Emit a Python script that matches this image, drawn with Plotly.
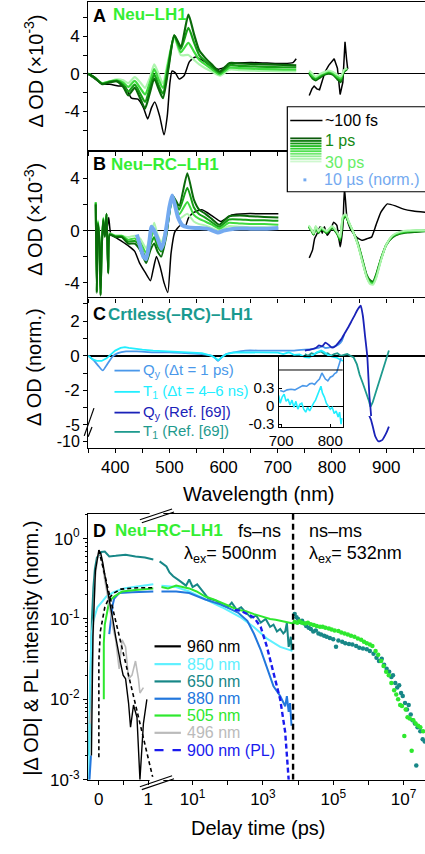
import plotly.graph_objects as go

W, H = 425, 854
FONT = "Liberation Sans, Arial, sans-serif"

# ===================== DATA =====================
# ---- Panel A (Neu-LH1), Delta OD x1e-3 ----
WL_A = [350, 362, 376, 390, 403, 415, 424, 436, 446, 455, 464, 472, 480, 488, 498, 509, 521, 535, 545, 555, 566, 578, 593, 611, 630, 650, 680, 710, 734]
A_1PS = [0.0, -0.4, -1.1, -0.9, -0.8, -1.4, -2.3, -1.5, -2.6, -3.7, -2.0, -0.5, -1.6, -2.6, 0.5, 4.1, 2.9, 6.3, 4.3, 2.5, 1.7, 1.0, 0.25, 1.15, 1.1, 1.05, 1.0, 0.95, 0.9]
A_3PS = [0.0, -0.4, -1.05, -0.85, -0.75, -1.2, -1.9, -1.15, -2.1, -3.0, -1.5, -0.05, -1.2, -2.1, 0.8, 4.1, 2.65, 4.9, 3.4, 2.0, 1.35, 0.75, 0.1, 0.9, 0.85, 0.8, 0.75, 0.7, 0.7]
A_10PS = [0.0, -0.4, -1.0, -0.8, -0.7, -0.95, -1.4, -0.75, -1.5, -2.2, -0.9, 0.5, -0.6, -1.5, 1.2, 4.0, 2.3, 3.3, 2.4, 1.5, 1.0, 0.5, -0.05, 0.65, 0.6, 0.55, 0.5, 0.45, 0.45]
A_30PS = [0.0, -0.4, -1.0, -0.8, -0.6, -0.7, -1.0, -0.35, -0.9, -1.5, -0.4, 1.0, 0.0, -1.0, 1.5, 3.9, 2.0, 2.0, 1.5, 1.0, 0.6, 0.25, -0.2, 0.45, 0.4, 0.35, 0.3, 0.25, 0.25]

WL_AN = [758, 764, 770, 778, 786, 794, 802, 810, 816, 822, 828]
AN_1PS = [0.0, -0.5, -0.7, -0.4, -0.1, 0.0, -0.1, -0.6, -0.9, 0.2, 0.5]
AN_3PS = [0.1, -0.35, -0.55, -0.25, 0.0, 0.15, 0.0, -0.45, -0.7, 0.3, 0.55]
AN_10PS = [0.2, -0.2, -0.4, -0.1, 0.1, 0.25, 0.1, -0.3, -0.5, 0.35, 0.6]
AN_30PS = [0.35, 0.0, -0.3, 0.0, 0.2, 0.35, 0.2, -0.1, -0.3, 0.4, 0.6]

BA_WL = [350, 362, 377, 390, 406, 418, 430, 442, 452, 460, 467, 473, 482, 490, 496, 501, 505, 511, 518, 527, 537, 548, 562, 578, 590, 602, 620, 650, 680, 710, 728, 734]
BA_100FS = [0.0, -0.5, -1.1, -1.1, -1.3, -1.35, -2.6, -2.7, -3.6, -4.8, -3.6, -3.0, -4.5, -6.5, -4.5, -0.9, 0.3, 0.1, -0.55, -0.2, 1.3, 1.8, 1.4, 0.8, 0.5, 0.7, 1.1, 1.2, 1.15, 1.1, 1.2, 1.6]
BAN_WL = [758, 763, 767, 772, 777, 782, 787, 794, 800, 804, 810, 815, 820, 824, 827, 829]
BAN_100FS = [-2.3, -1.6, -1.3, -1.6, -1.7, -0.6, 0.2, 0.9, 1.3, 1.6, 0.6, -2.2, -0.9, 3.4, 1.5, 0.5]

# ---- Panel B (Neu-RC-LH1) ----
WL_B = [364, 366, 368, 371, 373, 375, 378, 381, 384, 387, 390, 400, 412, 424, 436, 446, 457, 465, 472, 478, 485, 494, 506, 518, 533, 545, 555, 566, 578, 592, 610, 630, 650, 675, 701]
B_1PS = [2.0, -4.8, 0.5, -1.0, -5.0, -1.5, 0.8, -0.5, 1.3, -3.3, -0.3, -0.5, -0.5, -1.0, -1.0, -1.5, -2.5, -1.5, -1.0, -1.6, -2.0, -0.5, 2.7, 1.9, 4.4, 2.4, 1.6, 1.3, 0.9, 0.45, 1.1, 1.15, 1.1, 1.05, 1.0]
B_3PS = [2.1, -4.7, 0.6, -0.9, -4.9, -1.4, 0.9, -0.4, 1.3, -3.2, -0.3, -0.45, -0.45, -0.85, -0.8, -1.2, -2.1, -1.1, -0.5, -1.2, -1.6, -0.3, 2.65, 1.6, 3.3, 1.8, 1.25, 1.0, 0.65, 0.3, 0.85, 0.85, 0.8, 0.8, 0.75]
B_10PS = [2.2, -4.6, 0.7, -0.85, -4.85, -1.3, 0.95, -0.35, 1.25, -3.1, -0.25, -0.4, -0.4, -0.7, -0.6, -0.9, -1.7, -0.7, 0.0, -0.8, -1.2, -0.1, 2.5, 1.25, 2.2, 1.2, 0.9, 0.7, 0.45, 0.15, 0.6, 0.55, 0.5, 0.5, 0.45]
B_30PS = [2.2, -4.5, 0.8, -0.8, -4.8, -1.2, 1.0, -0.3, 1.2, -3.0, -0.2, -0.4, -0.4, -0.5, -0.4, -0.6, -1.35, -0.3, 0.6, -0.3, -0.85, 0.2, 2.4, 0.9, 1.3, 0.7, 0.5, 0.4, 0.2, 0.0, 0.35, 0.3, 0.25, 0.25, 0.2]

WL_BN = [757, 762, 766, 770, 775, 780, 785, 790, 795, 800, 805, 810, 815, 820, 825, 832, 840, 848, 856, 864, 870, 876, 882, 890, 900, 912, 925, 940, 955, 972]
BN_1PS = [0.3, 0.0, -0.3, 0.2, -0.2, 0.1, 0.0, -0.2, 0.0, 0.2, 0.0, -0.3, -0.8, 0.8, 1.1, 0.5, -0.2, -1.0, -2.2, -3.4, -3.8, -3.9, -3.3, -2.2, -1.1, -0.5, -0.25, -0.15, -0.1, -0.05]
BN_3PS = [0.3, 0.0, -0.3, 0.25, -0.15, 0.15, 0.0, -0.15, 0.05, 0.25, 0.05, -0.25, -0.7, 0.9, 1.15, 0.5, -0.2, -1.05, -2.3, -3.5, -3.9, -4.0, -3.4, -2.25, -1.1, -0.45, -0.2, -0.1, -0.05, -0.02]
BN_10PS = [0.35, 0.05, -0.25, 0.3, -0.1, 0.2, 0.05, -0.1, 0.1, 0.3, 0.1, -0.2, -0.6, 1.0, 1.2, 0.55, -0.2, -1.1, -2.35, -3.55, -4.0, -4.05, -3.5, -2.3, -1.1, -0.4, -0.15, -0.05, 0.0, 0.0]
BN_30PS = [0.4, 0.1, -0.2, 0.35, -0.05, 0.25, 0.1, -0.05, 0.15, 0.35, 0.15, -0.15, -0.5, 1.1, 1.25, 0.6, -0.2, -1.15, -2.4, -3.6, -4.1, -4.15, -3.6, -2.35, -1.1, -0.35, -0.1, 0.0, 0.0, 0.0]

BB_WL = [377, 380, 383, 385, 388, 392, 400, 411, 425, 436, 445, 455, 465, 470, 476, 483, 490, 497, 503, 510, 520, 529, 535, 545, 560, 580, 595, 615, 640, 670, 701]
BB_100FS = [0.2, -0.4, 0.8, 0.2, 1.0, -0.3, -0.5, -0.8, -1.2, -1.6, -2.5, -3.2, -3.85, -3.0, -2.0, -2.8, -4.0, -4.75, -1.75, -0.1, 0.4, 0.28, 0.96, 1.4, 1.6, 1.1, 0.7, 1.2, 1.3, 1.3, 1.3]
BBN_WL = [758, 764, 768, 773, 778, 782, 786, 791, 797, 803, 809, 815, 820, 823, 827.5, 833.5, 845, 855, 866, 873, 881, 890, 902, 917, 932, 950, 972]
BBN_100FS = [-2.1, -1.5, -0.6, -0.2, 0.3, -0.2, 0.3, -0.35, 0.0, 0.65, 0.4, -1.25, 0.3, 3.3, 1.0, 0.15, -0.5, -0.75, -0.6, -0.5, 0.4, 1.4, 2.05, 1.9, 1.65, 1.5, 1.4]

BL_WL = [440, 446, 452, 457, 462, 467, 472, 478, 485, 490, 495, 500, 505, 510, 516, 524, 535, 550, 570, 590, 600, 620, 650, 680, 701]
BL_10US = [-0.3, -1.2, -2.0, -2.2, -1.2, 0.3, 0.0, -0.6, -1.4, -0.8, 0.4, 1.8, 2.7, 2.0, 1.0, 0.4, 0.25, 0.2, 0.15, -0.15, 0.0, 0.15, 0.15, 0.15, 0.2]

# ---- Panel C (Crtless(-RC)-LH1), normalized ----
C_QY_WL = [350, 360, 368, 377, 385, 395, 405, 420, 440, 470, 500, 530, 560, 578, 585, 590, 596, 605, 620, 640, 670, 700, 730, 750, 765, 775, 782, 788, 795, 805, 812, 818, 822]
C_QY = [0.0, -0.25, -0.55, -0.85, -0.5, -0.05, 0.15, 0.25, 0.25, 0.2, 0.2, 0.15, 0.1, 0.0, -0.15, -0.3, -0.1, 0.1, 0.2, 0.3, 0.3, 0.3, 0.3, 0.35, 0.4, 0.45, 0.55, 0.45, 0.48, 0.54, 0.65, 0.85, 1.2]
C_T1_WL = [350, 358, 366, 375, 384, 392, 400, 410, 418, 425, 435, 450, 470, 500, 530, 560, 578, 585, 590, 596, 605, 620, 650, 680, 700, 710, 720, 730, 740, 750, 758, 765, 772, 780, 786, 792, 800, 808, 815, 820]
C_T1 = [0.0, -0.2, -0.3, -0.3, -0.15, 0.1, 0.3, 0.45, 0.5, 0.45, 0.4, 0.35, 0.3, 0.25, 0.2, 0.15, 0.0, -0.15, -0.25, -0.1, 0.1, 0.2, 0.2, 0.2, 0.18, 0.1, 0.2, 0.05, 0.08, -0.08, -0.1, 0.05, 0.2, 0.3, 0.2, 0.05, -0.05, -0.1, -0.2, -0.3]
C_QYREF_WL = [750, 760, 770, 776, 782, 788, 795, 800, 806, 812, 818, 824, 830, 836, 842, 846, 850, 853, 857, 861, 865, 869, 872, 876, 880, 886, 893, 900, 905]
C_QYREF = [0.3, 0.35, 0.45, 0.6, 0.55, 0.76, 0.6, 0.47, 0.55, 0.76, 1.0, 1.33, 1.65, 2.0, 2.35, 2.6, 2.8, 2.9, 2.3, 1.14, 0.0, -2.3, -3.4, -6.0, -8.5, -10.0, -9.5, -7.5, -5.5]
C_T1REF_WL = [750, 756, 762, 768, 774, 780, 786, 792, 798, 804, 810, 816, 822, 828, 834, 840, 846, 851, 857, 863, 868, 871, 875, 881, 887, 893, 899, 905]
C_T1REF = [0.1, 0.0, 0.15, 0.1, 0.2, 0.25, 0.1, 0.15, 0.0, 0.1, 0.15, 0.0, 0.05, 0.1, 0.0, -0.1, -0.5, -1.1, -1.6, -2.1, -2.6, -2.95, -2.7, -2.1, -1.5, -0.8, -0.2, 0.3]

# inset
IN_QY_WL = [698, 705, 712, 720, 728, 735, 744, 752, 758, 763, 768, 773, 778, 783, 787, 790, 795, 800, 805, 809, 813, 816, 819, 822]
IN_QY = [0.26, 0.24, 0.27, 0.28, 0.27, 0.3, 0.34, 0.33, 0.37, 0.38, 0.36, 0.41, 0.45, 0.55, 0.5, 0.45, 0.42, 0.48, 0.5, 0.54, 0.56, 0.65, 0.7, 0.8]
IN_T1_WL = [695, 698, 702, 706, 710, 714, 718, 722, 726, 730, 734, 738, 742, 746, 750, 754, 758, 762, 766, 770, 774, 778, 781, 784, 788, 792, 796, 800, 804, 808, 812, 816, 819, 822, 824]
IN_T1 = [0.18, 0.05, 0.15, 0.2, 0.08, 0.12, 0.02, 0.1, -0.02, 0.08, -0.05, 0.03, 0.05, -0.05, -0.1, -0.02, -0.08, 0.0, 0.05, 0.1, 0.18, 0.28, 0.33, 0.22, 0.15, 0.05, 0.0, -0.05, -0.02, -0.12, -0.08, -0.18, -0.1, -0.3, -0.2]

# ---- Panel D kinetics ----
# linear segment (delay in ps, -0.2 .. 1.15)
D960_T = [-0.15, -0.12, -0.07, -0.03, 0.0, 0.04, 0.08, 0.14, 0.21, 0.28, 0.34, 0.40, 0.44, 0.49, 0.54, 0.60, 0.64, 0.70, 0.77, 0.83, 0.90, 0.97]
D960 = [0.002, 0.06, 0.4, 0.6, 0.72, 0.65, 0.5, 0.3, 0.18, 0.1, 0.06, 0.035, 0.028, 0.02, 0.018, 0.009, 0.0045, 0.0085, 0.006, 0.001, 0.005, 0.01]
D850_T = [-0.2, -0.18, -0.15, -0.12, -0.08, -0.03, 0.05, 0.15, 0.3, 0.5, 0.7, 0.9, 1.1]
D850 = [0.001, 0.015, 0.06, 0.09, 0.11, 0.14, 0.16, 0.19, 0.215, 0.24, 0.25, 0.26, 0.27]
D650_T = [-0.2, -0.17, -0.14, -0.11, -0.08, -0.04, 0.0, 0.05, 0.12, 0.21, 0.34, 0.54, 0.74, 0.93, 1.1]
D650 = [0.002, 0.02, 0.1, 0.25, 0.42, 0.58, 0.63, 0.68, 0.69, 0.6, 0.61, 0.63, 0.6, 0.58, 0.55]
D880_T = [-0.19, -0.16, None, 0.21, 0.24, 0.28, 0.31, 0.41, 0.67, 1.1]
D880 = [0.001, 0.002, None, 0.065, 0.1, 0.15, 0.18, 0.21, 0.215, 0.22]
D505_T = [0.1, 0.1, 0.12, 0.15, 0.21, 0.31, 0.47, 0.74, 1.1]
D505 = [0.01, 0.05, 0.085, 0.11, 0.167, 0.19, 0.22, 0.23, 0.24]
D496_T = [-0.18, -0.15, -0.12, -0.08, -0.03, 0.0, 0.05, 0.12, 0.21, 0.28, 0.34, 0.41, 0.47, 0.54, 0.60, 0.67, 0.74, 0.80, 0.83, 0.90]
D496 = [0.005, 0.008, 0.05, 0.3, 0.55, 0.68, 0.6, 0.3, 0.15, 0.08, 0.055, 0.024, 0.055, 0.045, 0.018, 0.02, 0.03, 0.018, 0.012, 0.014]
FIT_DEC_T = [0.0, 0.2, 0.4, 0.6, 0.8, 1.0, 1.1]
FIT_DEC = [0.72, 0.22, 0.065, 0.02, 0.006, 0.0018, 0.001]
FIT_RISE_T = [0.0, 0.0, 0.03, 0.07, 0.12, 0.2, 0.3, 0.45, 0.6, 0.8, 1.0, 1.13]
FIT_RISE = [0.0019, 0.03, 0.07, 0.1, 0.14, 0.18, 0.21, 0.235, 0.24, 0.245, 0.245, 0.245]

# log segment (delay in ps)
D850L_T = [1.3, 3.4, 8, 23, 68, 240, 560, 1300, 3100, 5900, 6900]
D850L = [0.26, 0.25, 0.22, 0.175, 0.14, 0.104, 0.079, 0.057, 0.045, 0.041, 0.04]
D650L_T = [1.15, 1.8, 2.2, 2.8, 4.2, 6.5, 8, 10, 13.5, 20, 28, 45, 68, 100, 130, 180, 240, 330, 460, 650, 870, 1200, 1600, 2000, 2500, 3100, 3800, 4300, 4800, 5400, 6200, 6600]
D650L = [0.52, 0.45, 0.38, 0.34, 0.3, 0.26, 0.31, 0.25, 0.27, 0.22, 0.18, 0.17, 0.15, 0.14, 0.16, 0.13, 0.14, 0.12, 0.104, 0.11, 0.09, 0.1, 0.08, 0.085, 0.07, 0.075, 0.066, 0.07, 0.09, 0.045, 0.06, 0.041]
D505L_T = [1.3, 2, 3.4, 5, 8, 13, 23, 40, 68, 110, 195, 330, 560, 900, 1600, 2300, 3100, 4200, 5900, 7200]
D505L = [0.25, 0.24, 0.26, 0.25, 0.24, 0.22, 0.19, 0.175, 0.16, 0.145, 0.13, 0.125, 0.115, 0.108, 0.1, 0.098, 0.095, 0.092, 0.09, 0.088]
D880L_T = [1.3, 3.4, 8, 23, 68, 195, 360, 560, 870, 1300, 2000, 3100, 4300, 4800, 5400, 5900, 6500]
D880L = [0.22, 0.22, 0.21, 0.175, 0.15, 0.12, 0.095, 0.065, 0.041, 0.025, 0.0145, 0.011, 0.0082, 0.011, 0.007, 0.009, 0.0047]
D900PL_T = [160, 240, 560, 870, 1300, 2000, 3100, 4300, 4800, 5400]
D900PL = [0.13, 0.126, 0.104, 0.079, 0.045, 0.021, 0.01, 0.0039, 0.0018, 0.001]

DOT650_T = [8.0e3, 9.0e3, 1.0e4, 1.15e4, 1.3e4, 1.5e4, 1.7e4, 2.0e4, 2.3e4, 2.7e4, 3.2e4, 3.8e4, 4.5e4, 5.5e4, 6.5e4, 8.0e4, 1.0e5, 1.2e5, 1.4e5, 1.8e5, 2.2e5, 2.8e5, 3.5e5, 4.5e5, 5.5e5, 7.0e5, 9.0e5, 1.1e6, 1.4e6, 1.7e6, 2.0e6, 2.4e6, 2.8e6, 3.3e6, 3.9e6, 4.5e6, 5.0e6, 5.8e6, 6.6e6, 7.5e6, 8.5e6, 9.5e6, 1.1e7, 1.25e7, 1.4e7, 1.6e7, 1.8e7, 2.1e7, 2.3e7, 2.5e7, 3.0e7, 3.5e7, 4.0e7]
DOT650 = [0.115, 0.105, 0.1, 0.092, 0.095, 0.088, 0.082, 0.078, 0.075, 0.07, 0.072, 0.066, 0.064, 0.062, 0.06, 0.058, 0.056, 0.045, 0.054, 0.052, 0.05, 0.049, 0.048, 0.046, 0.044, 0.043, 0.042, 0.04, 0.037, 0.033, 0.03, 0.032, 0.027, 0.024, 0.022, 0.019, 0.02, 0.016, 0.014, 0.015, 0.012, 0.011, 0.009, 0.0075, 0.0085, 0.0065, 0.0055, 0.005, 0.0015, 0.0045, 0.004, 0.0032, 0.003]
DOT505_T = [8.0e3, 9.5e3, 1.1e4, 1.3e4, 1.6e4, 1.9e4, 2.3e4, 2.8e4, 3.4e4, 4.2e4, 5.0e4, 6.0e4, 7.5e4, 9.0e4, 1.1e5, 1.4e5, 1.7e5, 2.1e5, 2.6e5, 3.2e5, 4.0e5, 5.0e5, 6.2e5, 7.5e5, 9.0e5, 1.1e6, 1.3e6, 1.6e6, 1.9e6, 2.3e6, 2.7e6, 3.2e6, 3.8e6, 4.5e6, 5.4e6, 6.2e6, 7.0e6, 8.0e6, 9.0e6, 1.05e7, 1.15e7, 1.3e7, 1.5e7, 1.7e7, 1.9e7, 2.2e7, 2.6e7, 3.0e7, 3.6e7]
DOT505 = [0.092, 0.09, 0.094, 0.09, 0.088, 0.09, 0.086, 0.084, 0.082, 0.08, 0.08, 0.078, 0.076, 0.074, 0.072, 0.071, 0.068, 0.066, 0.064, 0.062, 0.06, 0.057, 0.055, 0.052, 0.05, 0.048, 0.046, 0.04, 0.036, 0.03, 0.026, 0.022, 0.02, 0.016, 0.013, 0.0115, 0.01, 0.0085, 0.0083, 0.0035, 0.0075, 0.006, 0.0058, 0.0023, 0.0055, 0.005, 0.0047, 0.0045, 0.004]
DIVIDER_T = 7200

# ---- colours ----
G1, G3, G10, G30 = "#0a6a0a", "#16a016", "#3fdc3f", "#aef5ae"
C_BLUE1, C_CYAN, C_DBLUE, C_TEAL = "#4a98ea", "#22eeff", "#1a22b8", "#1e9a8e"
K_TEAL, K_CYAN, K_BLUE, K_GREEN, K_GREY, K_PL = "#178787", "#5ff0ff", "#2277dd", "#2ee82e", "#bbbbbb", "#1a1aee"
LBLUE = "#74aaf0"
BRIGHT_GREEN = "#33ee33"

# ===================== FIGURE =====================
fig = go.Figure()


def X(p):
    return p / W


def Y(p):
    return 1 - p / H


def add(x, y, ax, color, width=1.6, dash="solid", shape="linear", smoothing=None, mode="lines", msize=4):
    xa = "x" if ax == 1 else "x%d" % ax
    ya = "y" if ax == 1 else "y%d" % ax
    ln = dict(color=color, width=width, dash=dash, shape=shape)
    if smoothing is not None:
        ln["smoothing"] = smoothing
    kw = dict(x=x, y=y, xaxis=xa, yaxis=ya, mode=mode, showlegend=False, hoverinfo="skip")
    if mode == "markers":
        kw["marker"] = dict(color=color, size=msize, line=dict(width=0))
    else:
        kw["line"] = ln
    fig.add_trace(go.Scatter(**kw))


# Panel A
add(BA_WL, BA_100FS, 1, "black", 1.5, shape="spline", smoothing=0.6)
add(BAN_WL, BAN_100FS, 1, "black", 1.5)
for arr, col in [(A_30PS, G30), (A_10PS, G10), (A_3PS, G3), (A_1PS, G1)]:
    add(WL_A, arr, 1, col, 2.2, shape="spline", smoothing=0.6)
for arrn, col in [(AN_1PS, G1), (AN_3PS, G3), (AN_10PS, G10), (AN_30PS, G30)]:
    add(WL_AN, arrn, 1, col, 2.0, shape="spline", smoothing=0.5)

# Panel B
add(BB_WL, BB_100FS, 2, "black", 1.5, shape="spline", smoothing=0.5)
add(BBN_WL, BBN_100FS, 2, "black", 1.5, shape="spline", smoothing=0.4)
for arr, col in [(B_30PS, G30), (B_10PS, G10), (B_3PS, G3), (B_1PS, G1)]:
    add(WL_B, arr, 2, col, 2.0, shape="spline", smoothing=0.5)
for arrn, col in [(BN_1PS, G1), (BN_3PS, G3), (BN_10PS, G10), (BN_30PS, G30)]:
    add(WL_BN, arrn, 2, col, 2.0, shape="spline", smoothing=0.6)
add(BL_WL, BL_10US, 2, LBLUE, 4.0, shape="spline", smoothing=0.5)

# Panel C (upper = axis 3, lower broken part = axis 4)
add(C_T1REF_WL, C_T1REF, 3, C_TEAL, 1.8)
add(C_QY_WL, C_QY, 3, C_BLUE1, 1.8, shape="spline", smoothing=0.5)
add(C_T1_WL, C_T1, 3, C_CYAN, 1.8)
add(C_QYREF_WL, C_QYREF, 3, C_DBLUE, 1.8, shape="spline", smoothing=0.5)
add(C_QYREF_WL, C_QYREF, 4, C_DBLUE, 1.8, shape="spline", smoothing=0.5)
# inset
add(IN_QY_WL, IN_QY, 5, C_BLUE1, 1.6)
add(IN_T1_WL, IN_T1, 5, C_CYAN, 1.6)

# Panel D linear part (axis 6)
add(D650_T, D650, 6, K_TEAL, 2.0)
add(D850_T, D850, 6, K_CYAN, 2.0)
add(D880_T, D880, 6, K_BLUE, 2.0)
add(D505_T, D505, 6, K_GREEN, 2.0)
add(D496_T, D496, 6, K_GREY, 1.6)
add(D960_T, D960, 6, "black", 1.4)
add(FIT_DEC_T, FIT_DEC, 6, "black", 1.6, dash="4px,3px")
add(FIT_RISE_T, FIT_RISE, 6, "black", 1.6, dash="4px,3px")
# Panel D log part (axis 7)
add(DOT650_T, DOT650, 7, K_TEAL, mode="markers", msize=4.5)
add(DOT505_T, DOT505, 7, K_GREEN, mode="markers", msize=4.5)
add(D850L_T, D850L, 7, K_CYAN, 2.0)
add(D650L_T, D650L, 7, K_TEAL, 2.0)
add(D880L_T, D880L, 7, K_BLUE, 2.0)
add(D505L_T, D505L, 7, K_GREEN, 2.0)
add(D900PL_T, D900PL, 7, K_PL, 2.4, dash="5px,3px")
add([DIVIDER_T, DIVIDER_T], [1e-3, 2.03], 7, "black", 2.4, dash="6px,4px")

# ===================== AXES =====================
tickfont = dict(family=FONT, size=17, color="black")
base = dict(showgrid=False, zeroline=False, linecolor="black", linewidth=1.2, ticks="outside",
            ticklen=4, tickwidth=1.2, tickcolor="black", tickfont=tickfont, showline=True)
XR = [350, 971.6]
DX = [X(80), 1.0]
xticks = list(range(350, 1000, 50))

lay = {}
lay["xaxis"] = dict(base, domain=DX, range=XR, anchor="y", mirror=True, tickvals=xticks, showticklabels=False)
lay["yaxis"] = dict(base, domain=[Y(153), Y(2)], range=[-8.24, 7.65], anchor="x", tickvals=[-4, 0, 4],
                    ticktext=["-4", "0", "4"], zeroline=True, zerolinecolor="black", zerolinewidth=1.3,
                    minor=dict(tickvals=[-6, -2, 2, 6], ticks="outside", ticklen=4, tickcolor="black"))
lay["xaxis2"] = dict(base, domain=DX, range=XR, anchor="y2", mirror=True, tickvals=xticks, showticklabels=False)
lay["yaxis2"] = dict(base, domain=[Y(301), Y(153)], range=[-5.14, 6.1], anchor="x2", tickvals=[-4, 0, 4],
                     ticktext=["-4", "0", "4"], zeroline=True, zerolinecolor="black", zerolinewidth=1.3,
                     minor=dict(tickvals=[-2, 2], ticks="outside", ticklen=4, tickcolor="black"))
lay["xaxis3"] = dict(domain=DX, range=XR, anchor="y3", visible=False)
lay["yaxis3"] = dict(base, domain=[Y(421), Y(301)], range=[-3.486, 3.37], anchor="x3", tickvals=[-2, 0, 2],
                     ticktext=["-2", "0", "2"], zeroline=True, zerolinecolor="black", zerolinewidth=2,
                     minor=dict(tickvals=[-3, -1, 1, 3], ticks="outside", ticklen=4, tickcolor="black"))
lay["xaxis4"] = dict(base, domain=DX, range=XR, anchor="y4", tickvals=[400, 500, 600, 700, 800, 900],
                     minor=dict(tickvals=xticks, ticks="outside", ticklen=4, tickcolor="black"))
lay["yaxis4"] = dict(base, domain=[Y(453), Y(421)], range=[-11.89, -2.31], anchor="x4", tickvals=[-10, -5],
                     ticktext=["-10", "-5"], tickfont=dict(family=FONT, size=16, color="black"))
lay["xaxis5"] = dict(base, domain=[X(275), X(340.7)], range=[694.6, 825.3], anchor="y5", mirror=True,
                     tickvals=[700, 800], ticks="inside", ticklen=3, tickfont=dict(family=FONT, size=15, color="black"))
lay["yaxis5"] = dict(base, domain=[Y(431.7), Y(361.7)], range=[-0.34, 0.808], anchor="x5", mirror=True,
                     tickvals=[-0.3, 0, 0.3], ticktext=["-0.3", "0", "0.3"], ticks="inside", ticklen=3,
                     zeroline=True, zerolinecolor="black", zerolinewidth=1.2,
                     tickfont=dict(family=FONT, size=15, color="black"))
DY = [Y(789), Y(520)]
ymin_ticks = [m * 10 ** e for e in (-3, -2, -1) for m in range(2, 10)] + [2]
lay["xaxis6"] = dict(base, domain=[X(80), X(150)], range=[-0.217, 1.164], anchor="y6", mirror=True,
                     tickvals=[0, 0.5, 1], ticktext=["0", " ", "1"])
lay["yaxis6"] = dict(base, domain=DY, type="log", range=[-3, 0.307], anchor="x6",
                     tickvals=[0.001, 0.01, 0.1, 1],
                     ticktext=["10<sup>-3</sup>", "10<sup>-2</sup>", "10<sup>-1</sup>", "10<sup>0</sup>"],
                     minor=dict(tickvals=ymin_ticks, ticks="outside", ticklen=2.5, tickcolor="black"))
lay["xaxis7"] = dict(base, domain=[X(150), 1.0], type="log", range=[-0.028, 7.61], anchor="y7", mirror=True,
                     tickvals=[10, 1e3, 1e5, 1e7],
                     ticktext=["10<sup>1</sup>", "10<sup>3</sup>", "10<sup>5</sup>", "10<sup>7</sup>"],
                     minor=dict(tickvals=[100, 1e4, 1e6], ticks="outside", ticklen=4, tickcolor="black"))
lay["yaxis7"] = dict(domain=DY, type="log", range=[-3, 0.307], anchor="x7", visible=False)

# ===================== ANNOTATIONS =====================
ann = []


def txt(text, x, y, size=17, color="black", xanchor="left", angle=0, bold=False):
    if bold:
        text = "<b>%s</b>" % text
    ann.append(dict(text=text, x=X(x), y=Y(y), xref="paper", yref="paper", xanchor=xanchor, yanchor="middle",
                    showarrow=False, textangle=angle, borderpad=0, font=dict(family=FONT, size=size, color=color)))


# panel labels
txt("A", 84, 16, 18, bold=True)
txt("Neu–LH1", 104, 15, 17, BRIGHT_GREEN, bold=True)
txt("B", 84, 166, 18, bold=True)
txt("Neu–RC–LH1", 102, 166, 17, BRIGHT_GREEN, bold=True)
txt("C", 84, 318, 18, bold=True)
txt("Crtless(–RC)–LH1", 99, 318, 17, "#1a9a90", bold=True)
txt("D", 84, 537, 18, bold=True)
txt("Neu–RC–LH1", 106, 537, 17, BRIGHT_GREEN, bold=True)

# axis titles
txt("Δ OD (×10<sup>-3</sup>)", 24, 72, 20, xanchor="center", angle=-90)
txt("Δ OD (×10<sup>-3</sup>)", 24, 222, 20, xanchor="center", angle=-90)
txt("Δ OD (norm.)", 24, 371, 20, xanchor="center", angle=-90)
txt("|Δ OD| & PL intensity (norm.)", 22, 656, 20, xanchor="center", angle=-90)
txt("Wavelength (nm)", 255, 500, 20, xanchor="center")
txt("Delay time (ps)", 254, 838, 20, xanchor="center")

# legend A/B
txt("~100 fs", 322, 122, 16)
txt("1 ps", 322, 142, 16, "#148a14")
txt("30 ps", 322, 164, 16, "#66ee66")
txt("10 µs (norm.)", 321, 182, 16, LBLUE)

# legend C
legC = [("Q<sub>y</sub> (Δt = 1 ps)", C_BLUE1, 375), ("T<sub>1</sub> (Δt = 4–6 ns)", C_CYAN, 396.5),
        ("Q<sub>y</sub> (Ref. [69])", C_DBLUE, 417.5), ("T<sub>1</sub> (Ref. [69])", C_TEAL, 437)]
for t, c, yy in legC:
    txt(t, 135, yy, 15, c)

# panel D texts
txt("fs–ns", 232, 537, 18)
txt("λ<sub>ex</sub>= 500nm", 177, 561, 18)
txt("ns–ms", 305, 537, 18)
txt("λ<sub>ex</sub>= 532nm", 305, 561, 18)
legD = [("960 nm", "black", 654, "solid"), ("850 nm", K_CYAN, 672, "solid"), ("650 nm", K_TEAL, 689.5, "solid"),
        ("880 nm", K_BLUE, 707, "solid"), ("505 nm", K_GREEN, 724, "solid"), ("496 nm", K_GREY, 741.5, "solid"),
        ("900 nm (PL)", K_PL, 759, "dash")]
for t, c, yy, d in legD:
    txt(t, 180, yy, 16, c)

# ===================== SHAPES =====================
shapes = []


def seg(x0, y0, x1, y1, color="black", width=1.2, dash="solid"):
    shapes.append(dict(type="line", xref="paper", yref="paper", x0=X(x0), y0=Y(y0), x1=X(x1), y1=Y(y1),
                       line=dict(color=color, width=width, dash=dash), layer="above"))


# legend box A/B
shapes.append(dict(type="rect", xref="paper", yref="paper", x0=X(284), x1=1.05, y0=Y(194), y1=Y(108),
                   fillcolor="white", line=dict(color="black", width=1.2), layer="above"))
seg(287, 122, 320, 122, "black", 1.5)
GRAD = ["#0a5a0a", "#0f7a0f", "#169a16", "#1fbb1f", "#2fd02f", "#4ee04e", "#70e870", "#92ef92", "#b2f4b2", "#cff8cf"]
for i, gc in enumerate(GRAD):
    seg(287, 140 + i * 2.6, 319, 140 + i * 2.6, gc, 1.8)
shapes.append(dict(type="rect", xref="paper", yref="paper", x0=X(300.5), x1=X(303.5), y0=Y(183.5), y1=Y(180.5),
                   fillcolor=LBLUE, line=dict(width=0), layer="above"))

# legend C line samples
for t, c, yy in legC:
    seg(107, yy, 133, yy, c, 1.8)
# legend D line samples
for t, c, yy, d in legD:
    seg(148, yy, 175, yy, c, 2.2, "dash" if d == "dash" else "solid")

# inset 0.6 line
shapes.append(dict(type="line", xref="x5 domain", yref="y5", x0=0, x1=1, y0=0.6, y1=0.6,
                   line=dict(color="black", width=1.0)))

# axis break marks
seg(76, 441, 86, 413, "black", 1.2)
seg(80, 442, 84, 432, "black", 1.2)
shapes.append(dict(type="rect", xref="paper", yref="paper", x0=X(143), x1=X(157), y0=Y(523), y1=Y(517),
                   fillcolor="white", line=dict(width=0), layer="above"))
seg(133, 526, 166, 515, "black", 1.1)
seg(135, 529, 168, 518, "black", 1.1)
shapes.append(dict(type="rect", xref="paper", yref="paper", x0=X(143), x1=X(157), y0=Y(792), y1=Y(786),
                   fillcolor="white", line=dict(width=0), layer="above"))
seg(133, 796, 166, 785, "black", 1.1)
seg(135, 799, 168, 788, "black", 1.1)

fig.update_layout(width=W, height=H, margin=dict(l=0, r=0, t=0, b=0), paper_bgcolor="white",
                  plot_bgcolor="rgba(0,0,0,0)", showlegend=False, annotations=ann, shapes=shapes,
                  font=dict(family=FONT, color="black"), **lay)

fig.write_html("out.html")
